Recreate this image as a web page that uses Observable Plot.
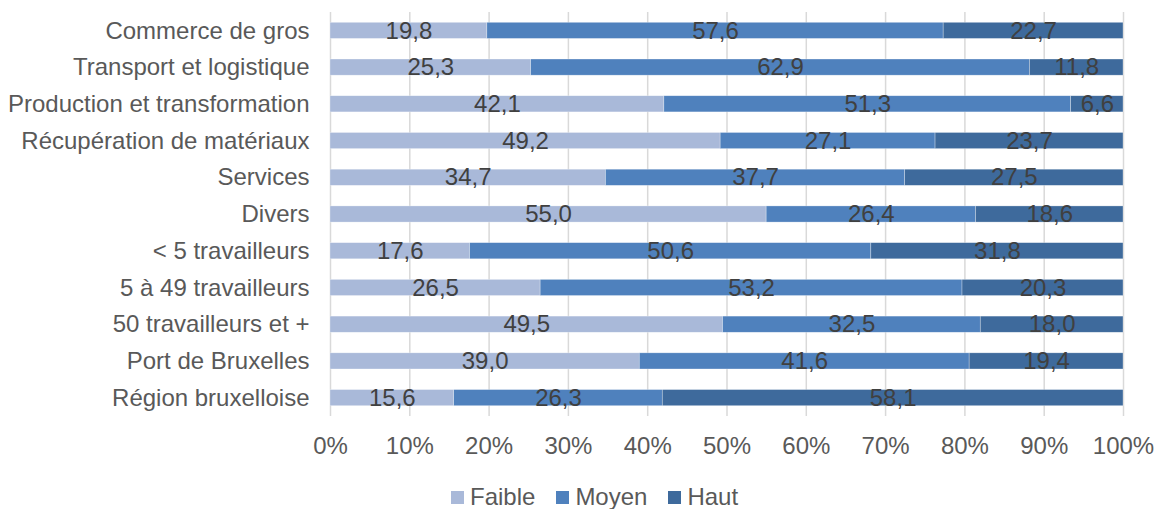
<!DOCTYPE html>
<html>
<head>
<meta charset="utf-8">
<script src="https://cdn.jsdelivr.net/npm/d3@7"></script>
<script src="https://cdn.jsdelivr.net/npm/@observablehq/plot@0.6"></script>
<style>
  body { margin: 0; background: #fff; font-family: "Liberation Sans", Arial, sans-serif; }
  #wrap { position: relative; width: 1157px; height: 509px; }
  #legend { position: absolute; left: 451px; top: 483px; display: flex; align-items: center; font-size: 24px; color: #595959; line-height: 28px; }
  #legend .item { display: flex; align-items: center; margin-right: 21px; }
  #legend .sw { width: 13px; height: 13px; margin-right: 6px; }
</style>
</head>
<body>
<div id="wrap">
  <div id="chart"></div>
  <div id="legend"></div>
</div>
<script>
// Categories, top to bottom
const categories = [
  "Commerce de gros",
  "Transport et logistique",
  "Production et transformation",
  "Récupération de matériaux",
  "Services",
  "Divers",
  "< 5 travailleurs",
  "5 à 49 travailleurs",
  "50 travailleurs et +",
  "Port de Bruxelles",
  "Région bruxelloise"
];
const levels = ["Faible", "Moyen", "Haut"];
const faible = [19.8, 25.3, 42.1, 49.2, 34.7, 55.0, 17.6, 26.5, 49.5, 39.0, 15.6];
const moyen  = [57.6, 62.9, 51.3, 27.1, 37.7, 26.4, 50.6, 53.2, 32.5, 41.6, 26.3];
const haut   = [22.7, 11.8, 6.6, 23.7, 27.5, 18.6, 31.8, 20.3, 18.0, 19.4, 58.1];
const xTicks = [0, 0.1, 0.2, 0.3, 0.4, 0.5, 0.6, 0.7, 0.8, 0.9, 1];
const colors = ["#a9b9d9", "#4f81bd", "#3e6a9c"];

const series = [faible, moyen, haut];
const rows = [];
categories.forEach((c, i) => {
  levels.forEach((l, j) => rows.push({category: c, level: l, value: series[j][i]}));
});
const fmt = v => v.toFixed(1).replace(".", ",");

// 100% stacked: each row normalised to its total
const stackOpts = {x: "value", y: "category", z: "level", order: levels, offset: "normalize"};

const chart = Plot.plot({
  width: 1157,
  height: 460,
  marginLeft: 330,
  marginRight: 34,
  marginTop: 12,
  marginBottom: 44,
  style: {fontFamily: "'Liberation Sans', Arial, sans-serif", fontSize: "24px", background: "white", color: "#595959"},
  x: {domain: [0, 1], label: null},
  y: {domain: categories, paddingInner: 0.56, paddingOuter: 0.28, round: false, label: null},
  color: {domain: levels, range: colors},
  marks: [
    Plot.gridX(xTicks, {stroke: "#d9d9d9", strokeOpacity: 1, strokeWidth: 1.5}),
    Plot.barX(rows, Plot.stackX({...stackOpts, fill: "level", stroke: "white", strokeWidth: 0.6, strokeOpacity: 0.5})),
    Plot.text(rows, Plot.stackX({...stackOpts, text: d => fmt(d.value), fill: "#404040", fontSize: 24})),
    Plot.axisX(xTicks, {tickSize: 0, tickPadding: 20, tickFormat: d3.format(".0%"), fontSize: 24, fill: "#595959", label: null}),
    Plot.axisY({tickSize: 0, tickPadding: 21, fontSize: 24, fill: "#595959", label: null})
  ]
});
document.getElementById("chart").appendChild(chart);

const legend = document.getElementById("legend");
levels.forEach((l, j) => {
  const item = document.createElement("div");
  item.className = "item";
  const sw = document.createElement("span");
  sw.className = "sw";
  sw.style.background = colors[j];
  const tx = document.createElement("span");
  tx.textContent = l;
  item.appendChild(sw);
  item.appendChild(tx);
  legend.appendChild(item);
});
</script>
</body>
</html>
